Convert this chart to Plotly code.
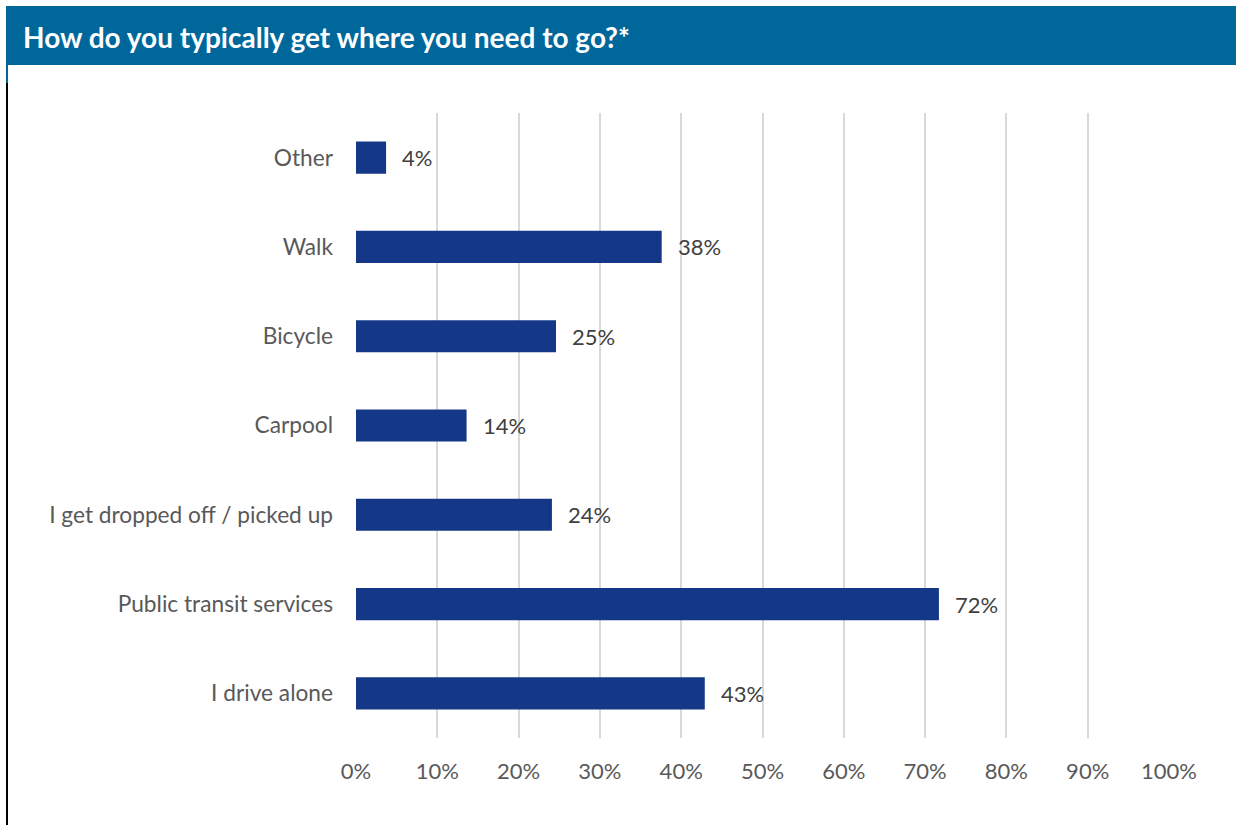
import plotly.graph_objects as go

categories = ["I drive alone", "Public transit services", "I get dropped off / picked up",
              "Carpool", "Bicycle", "Walk", "Other"]
values = [42.9, 71.7, 24.1, 13.6, 24.6, 37.6, 3.7]
tick_vals = [0, 10, 20, 30, 40, 50, 60, 70, 80, 90, 100]
tick_text = [f"{v}%" for v in tick_vals]
title_text = "How do you typically get where you need to go?*"

W, H = 1236, 825
L, R, T, B = 356, 67, 113, 87
pw, ph = W - L - R, H - T - B

def px_x(p):
    return (p - L) / pw

def px_y(p):
    return (H - B - p) / ph

FONT = "Lato"
fig = go.Figure()
fig.add_trace(go.Bar(
    x=values, y=categories, orientation="h",
    marker=dict(color="#143887", line=dict(width=0)),
    hoverinfo="skip",
))

for v, c in zip(values, categories):
    fig.add_annotation(x=v, y=c, xref="x", yref="y", text=f"{round(v)}%",
                       showarrow=False, xanchor="left", xshift=14,
                       font=dict(family=FONT, size=22, color="#404040"))

# title bar
fig.add_shape(type="rect", xref="paper", yref="paper",
              x0=px_x(6), x1=px_x(1236), y0=px_y(65), y1=px_y(6),
              fillcolor="#00679B", line=dict(width=0), layer="below")
fig.add_shape(type="rect", xref="paper", yref="paper",
              x0=px_x(6), x1=px_x(8), y0=px_y(83), y1=px_y(65),
              fillcolor="#00679B", line=dict(width=0), layer="below")
fig.add_shape(type="line", xref="paper", yref="paper",
              x0=px_x(7), x1=px_x(7), y0=px_y(825), y1=px_y(83),
              line=dict(color="black", width=2))
fig.add_annotation(xref="paper", yref="paper", x=px_x(21), y=px_y(37),
                   xanchor="left", yanchor="middle", showarrow=False,
                   text=f"<b>{title_text}</b>",
                   font=dict(family=FONT, size=28, color="white"))

fig.update_layout(
    width=W, height=H,
    margin=dict(l=L, r=R, t=T, b=B, autoexpand=False),
    paper_bgcolor="white", plot_bgcolor="white",
    bargap=0.64, showlegend=False,
    font=dict(family=FONT, size=22, color="#595959"),
    xaxis=dict(range=[0, 100], tickvals=tick_vals, ticktext=tick_text,
               showgrid=True, gridcolor="#D9D9D9", gridwidth=2,
               zeroline=False, showline=False, ticks="",
               ticklabelstandoff=18,
               tickfont=dict(family=FONT, size=22, color="#595959")),
    yaxis=dict(categoryorder="array", categoryarray=categories,
               showgrid=False, zeroline=False, showline=False, ticks="",
               ticklabelstandoff=22,
               tickfont=dict(family=FONT, size=22.7, color="#595959")),
)

fig.write_html("out.html", config={"displayModeBar": False},
               post_script="document.body.style.margin='0';")
